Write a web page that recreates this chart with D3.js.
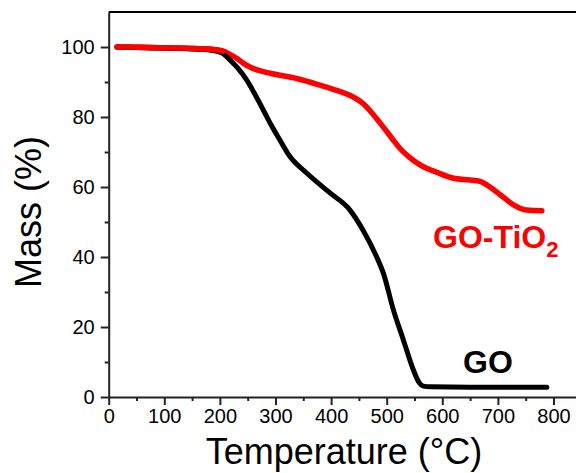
<!DOCTYPE html>
<html>
<head>
<meta charset="utf-8">
<script src="https://cdn.jsdelivr.net/npm/d3@7"></script>
<style>
  body { margin: 0; background: #fff; }
  text { font-family: Arial, "Liberation Sans", sans-serif; }
</style>
</head>
<body>
<svg id="chart" width="576" height="473"></svg>
<script>
// GO curve (temperature °C, mass %)
const goTemp = [15, 60, 120, 188, 205, 218, 233, 248, 263, 278, 293, 308, 326, 356, 398, 434, 458, 482, 494, 512, 530, 548, 558, 566, 578, 650, 720, 788];
const goMass = [100, 99.8, 99.6, 99.0, 98.2, 96.3, 93.8, 90.6, 86.5, 82, 77.5, 73.4, 68.7, 64, 58.3, 53.4, 47.5, 40, 35.4, 24.9, 16.3, 7.7, 4.2, 3.1, 2.9, 2.8, 2.8, 2.8];

// GO-TiO2 curve
const tiTemp = [15, 60, 128, 180, 206, 218, 230, 242, 254, 270, 290, 338, 380, 410, 440, 458, 470, 482, 494, 510, 524, 540, 560, 590, 620, 650, 668, 680, 704, 728, 752, 779];
const tiMass = [100, 99.9, 99.7, 99.4, 98.8, 97.9, 96.8, 95.4, 94.3, 93.3, 92.5, 91, 89.1, 87.6, 85.7, 83.8, 81.8, 79.5, 77.1, 73.8, 71, 68.6, 66.3, 64.2, 62.5, 62, 61.6, 60.6, 57.8, 54.9, 53.4, 53.2];

const xTicks = [0, 100, 200, 300, 400, 500, 600, 700, 800];
const yTicks = [0, 20, 40, 60, 80, 100];

const svg = d3.select('#chart');
const x = d3.scaleLinear().domain([0, 850]).range([108.7, 581.3]);
const y = d3.scaleLinear().domain([0, 110]).range([397, 12]);

// frame top line (right side is cut off)
svg.append('line')
  .attr('x1', x(0)).attr('x2', 580)
  .attr('y1', y(110)).attr('y2', y(110))
  .attr('stroke', '#000').attr('stroke-width', 2);

// x axis
svg.append('g')
  .attr('transform', `translate(0, ${y(0)})`)
  .call(d3.axisBottom(x).tickValues(xTicks).tickSize(8).tickSizeOuter(0).tickPadding(4));
svg.append('g')
  .attr('transform', `translate(0, ${y(0)})`)
  .call(d3.axisBottom(x).tickValues(d3.range(50, 850, 100)).tickSize(4).tickFormat(''))
  .call(g => g.select('.domain').remove());

// y axis
svg.append('g')
  .attr('transform', `translate(${x(0)}, 0)`)
  .call(d3.axisLeft(y).tickValues(yTicks).tickSize(8).tickSizeOuter(0).tickPadding(6));
svg.append('g')
  .attr('transform', `translate(${x(0)}, 0)`)
  .call(d3.axisLeft(y).tickValues(d3.range(10, 110, 20)).tickSize(4).tickFormat(''))
  .call(g => g.select('.domain').remove());

svg.selectAll('.domain, .tick line')
  .attr('stroke', '#222').attr('stroke-width', 2);
svg.selectAll('.tick text')
  .attr('font-size', 20).attr('fill', '#000')
  .style('font-family', 'Arial, "Liberation Sans", sans-serif');

// lines
const line = d3.line()
  .x(d => x(d[0]))
  .y(d => y(d[1]))
  .curve(d3.curveMonotoneX);

svg.append('path')
  .datum(d3.zip(tiTemp, tiMass))
  .attr('fill', 'none')
  .attr('stroke', '#ff0000')
  .attr('stroke-width', 5.5)
  .attr('stroke-linecap', 'round')
  .attr('stroke-linejoin', 'round')
  .attr('d', line);

svg.append('path')
  .datum(d3.zip(goTemp, goMass))
  .attr('fill', 'none')
  .attr('stroke', '#000')
  .attr('stroke-width', 5)
  .attr('stroke-linecap', 'round')
  .attr('stroke-linejoin', 'round')
  .attr('d', line);

// red line stays on top in the flat start
svg.append('path')
  .datum(d3.zip(tiTemp, tiMass).filter(d => d[0] <= 206))
  .attr('fill', 'none')
  .attr('stroke', '#ff0000')
  .attr('stroke-width', 5.5)
  .attr('stroke-linecap', 'round')
  .attr('d', line);

// axis titles
svg.append('text')
  .attr('x', 344).attr('y', 464)
  .attr('text-anchor', 'middle')
  .attr('font-size', 36)
  .text('Temperature (°C)');

svg.append('text')
  .attr('transform', 'translate(41, 212) rotate(-90)')
  .attr('text-anchor', 'middle')
  .attr('font-size', 36)
  .text('Mass (%)');

// series labels
svg.append('text')
  .attr('x', 463).attr('y', 373)
  .attr('font-size', 32).attr('font-weight', 'bold')
  .attr('fill', '#000')
  .text('GO');

const lab = svg.append('text')
  .attr('x', 433).attr('y', 248)
  .attr('font-size', 32).attr('font-weight', 'bold')
  .attr('fill', '#ff0000');
lab.append('tspan').text('GO-TiO');
lab.append('tspan').attr('font-size', 22).attr('dy', 9).text('2');
</script>
</body>
</html>
